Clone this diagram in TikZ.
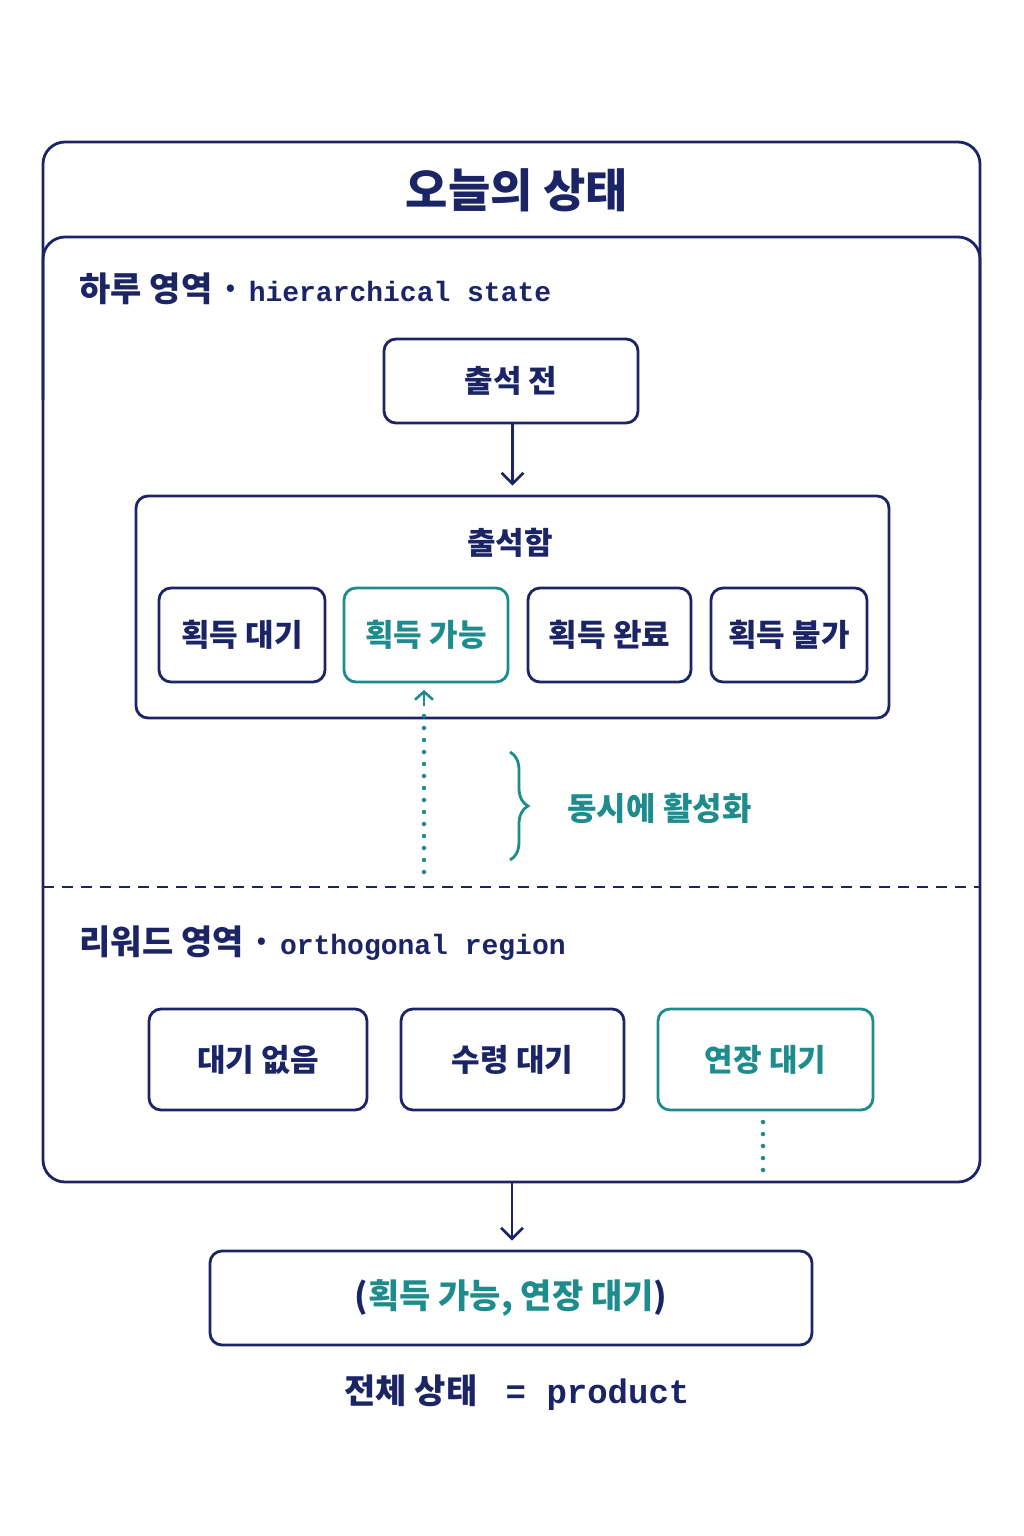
\documentclass[tikz,border=0pt]{standalone}
\usepackage{fontspec}
\setmainfont{Noto Sans CJK KR}
\newfontfamily\kr{Noto Sans CJK KR}
\newfontfamily\mono{Liberation Mono}
\usetikzlibrary{arrows.meta,decorations.pathreplacing}
\definecolor{navy}{HTML}{1B2566}
\definecolor{teal}{HTML}{1E8C8C}
\begin{document}
\begin{tikzpicture}[x=1pt,y=-1pt,
  box/.style={draw=navy,line width=2.8pt,rounded corners=12pt,inner sep=0pt},
  tbox/.style={box,draw=teal},
  lab/.style={font=\kr\bfseries\fontsize{31}{34}\selectfont,text=navy},
  arr/.style={draw=navy,line width=2.6pt,-{Straight Barb[length=11pt,width=22pt]}},
  dots/.style={draw=teal,line width=4.5pt,line cap=round,dash pattern=on 0pt off 12pt}]
\useasboundingbox (0,0) rectangle (1024,1536);
% outer frame
\draw[navy,line width=2.8pt,rounded corners=22pt] (43,142) rectangle (980,1182);
\draw[navy,line width=2.8pt,rounded corners=22pt] (43,400) -- (43,237) -- (980,237) -- (980,400);
\node[font=\kr\bfseries\fontsize{46}{50}\selectfont,text=navy] (title) at (517,190) {오늘의 상태};
% region 1
\node[anchor=west,font=\kr\bfseries\fontsize{34}{38}\selectfont,text=navy] (r1) at (76,289) {하루 영역 \textperiodcentered\ {\mono\fontsize{28}{30}\selectfont hierarchical state}};
\node[box,minimum width=254,minimum height=84,lab] (pre) at (511,381) {출석 전};
\node[box,minimum width=753,minimum height=222] (att) at (512.5,607) {};
\node[lab] (attl) at (510,543) {출석함};
\node[box,minimum width=166,minimum height=94,lab] (s1) at (242,635) {획득 대기};
\node[tbox,minimum width=164,minimum height=94,lab,text=teal] (s2) at (426,635) {획득 가능};
\node[box,minimum width=163,minimum height=94,lab] (s3) at (609.5,635) {획득 완료};
\node[box,minimum width=156,minimum height=94,lab] (s4) at (789,635) {획득 불가};
\draw[arr] (pre.south -| att.north) -- ([yshift=9pt]att.north);
\coordinate (d1) at (424,872);
\draw[dots] (d1) -- (424,716);
\draw[teal,line width=2.6pt,-{Straight Barb[length=8pt,width=18pt]}] (424,706) -- (424,690);
\draw[teal,line width=2.8pt,decorate,decoration={brace,amplitude=18pt}] (510,752) -- (510,860);
\node[anchor=west,font=\kr\bfseries\fontsize{32}{36}\selectfont,text=teal] (sim) at (564,808) {동시에 활성화};
% divider
\draw[navy,line width=2.8pt,dash pattern=on 11pt off 8pt] (43,887) -- (980,887);
% region 2
\node[anchor=west,font=\kr\bfseries\fontsize{34}{38}\selectfont,text=navy] (r2) at (76,943) {리워드 영역 \textperiodcentered\ {\mono\fontsize{28}{30}\selectfont orthogonal region}};
\node[box,minimum width=218,minimum height=101,lab] (w1) at (258,1059.5) {대기 없음};
\node[box,minimum width=223,minimum height=101,lab] (w2) at (512.5,1059.5) {수령 대기};
\node[tbox,minimum width=215,minimum height=101,lab,text=teal] (w3) at (765.5,1059.5) {연장 대기};
\coordinate (d2) at (763,1170);
\draw[dots] (763,1122) -- (d2);
% result
\coordinate (fb) at (512,1182);
\node[box,minimum width=602,minimum height=94,font=\kr\bfseries\fontsize{34}{38}\selectfont] (res) at (511,1298) {\textcolor{navy}{(}\textcolor{teal}{획득 가능, 연장 대기}\textcolor{navy}{)}};
\draw[arr] (fb) -- ([yshift=9pt]fb |- res.north);
\node[font=\kr\bfseries\fontsize{34}{38}\selectfont,text=navy] (tot) at (517,1393) {전체 상태 {\mono\bfseries\fontsize{34}{36}\selectfont\ = product}};
\end{tikzpicture}
\end{document}
